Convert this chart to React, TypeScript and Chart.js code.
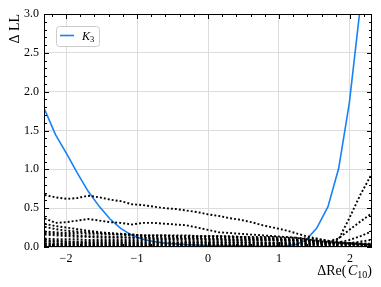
import React, { useEffect, useRef } from "react";
import { Chart, registerables } from "chart.js";

Chart.register(...registerables);

const xs = [-2.3, -2.15, -1.99, -1.84, -1.69, -1.53, -1.38, -1.23, -1.07, -0.92, -0.77, -0.61, -0.46, -0.31, -0.15, 0, 0.15, 0.31, 0.46, 0.61, 0.77, 0.92, 1.07, 1.23, 1.38, 1.53, 1.69, 1.84, 1.99, 2.15, 2.3];

const k3 = [1.77, 1.45, 1.2, 0.95, 0.72, 0.52, 0.36, 0.24, 0.15, 0.1, 0.07, 0.05, 0.04, 0.03, 0.025, 0.02, 0.02, 0.02, 0.015, 0.01, 0.01, 0.01, 0.015, 0.03, 0.09, 0.24, 0.52, 1.01, 1.85, 3.13, 4.6];

const d1 = [0.67, 0.64, 0.62, 0.63, 0.66, 0.64, 0.61, 0.59, 0.55, 0.54, 0.52, 0.5, 0.49, 0.47, 0.45, 0.42, 0.4, 0.37, 0.35, 0.32, 0.28, 0.25, 0.22, 0.18, 0.14, 0.11, 0.08, 0.06, 0.05, 0.04, 0.03];
const d2 = [0.37, 0.31, 0.32, 0.34, 0.36, 0.34, 0.32, 0.31, 0.29, 0.31, 0.31, 0.3, 0.29, 0.28, 0.25, 0.22, 0.19, 0.18, 0.17, 0.16, 0.15, 0.14, 0.13, 0.12, 0.1, 0.08, 0.06, 0.05, 0.04, 0.03, 0.03];
const d3 = [0.3, 0.27, 0.25, 0.23, 0.21, 0.19, 0.18, 0.17, 0.16, 0.15, 0.15, 0.15, 0.14, 0.14, 0.14, 0.14, 0.14, 0.14, 0.13, 0.13, 0.13, 0.13, 0.12, 0.12, 0.11, 0.1, 0.08, 0.06, 0.05, 0.04, 0.03];
const d4 = [0.2, 0.19, 0.18, 0.18, 0.17, 0.17, 0.16, 0.16, 0.16, 0.15, 0.15, 0.15, 0.15, 0.15, 0.14, 0.14, 0.14, 0.13, 0.13, 0.12, 0.12, 0.11, 0.1, 0.09, 0.08, 0.07, 0.06, 0.05, 0.05, 0.04, 0.04];
const d5 = [0.16, 0.15, 0.14, 0.13, 0.13, 0.12, 0.12, 0.12, 0.12, 0.12, 0.11, 0.11, 0.11, 0.11, 0.11, 0.1, 0.1, 0.1, 0.1, 0.1, 0.1, 0.1, 0.09, 0.09, 0.08, 0.07, 0.06, 0.06, 0.05, 0.05, 0.04];
const d6 = [0.11, 0.1, 0.1, 0.1, 0.09, 0.09, 0.09, 0.09, 0.09, 0.09, 0.09, 0.09, 0.09, 0.08, 0.08, 0.08, 0.08, 0.08, 0.08, 0.08, 0.08, 0.08, 0.07, 0.07, 0.07, 0.06, 0.05, 0.05, 0.04, 0.04, 0.03];
const d7 = [0.07, 0.07, 0.07, 0.06, 0.06, 0.06, 0.06, 0.06, 0.06, 0.06, 0.06, 0.06, 0.06, 0.06, 0.06, 0.06, 0.06, 0.06, 0.06, 0.06, 0.05, 0.05, 0.05, 0.05, 0.05, 0.05, 0.04, 0.04, 0.03, 0.03, 0.03];
const d8 = [0.04, 0.04, 0.04, 0.04, 0.04, 0.035, 0.035, 0.035, 0.035, 0.035, 0.035, 0.035, 0.035, 0.035, 0.03, 0.03, 0.03, 0.03, 0.03, 0.03, 0.03, 0.03, 0.03, 0.03, 0.03, 0.03, 0.025, 0.025, 0.02, 0.02, 0.02];
const d9 = [0.015, 0.015, 0.015, 0.015, 0.015, 0.015, 0.015, 0.015, 0.015, 0.015, 0.012, 0.012, 0.012, 0.012, 0.012, 0.012, 0.012, 0.012, 0.012, 0.012, 0.012, 0.012, 0.012, 0.012, 0.012, 0.01, 0.01, 0.01, 0.01, 0.01, 0.01];
const d10 = [0.26, 0.23, 0.21, 0.2, 0.19, 0.18, 0.17, 0.16, 0.15, 0.14, 0.13, 0.13, 0.13, 0.12, 0.12, 0.12, 0.12, 0.12, 0.12, 0.11, 0.11, 0.11, 0.1, 0.1, 0.09, 0.08, 0.07, 0.06, 0.05, 0.04, 0.04];
const d11 = [0.18, 0.17, 0.16, 0.15, 0.14, 0.14, 0.13, 0.13, 0.12, 0.12, 0.11, 0.11, 0.11, 0.1, 0.1, 0.1, 0.1, 0.09, 0.09, 0.09, 0.09, 0.09, 0.08, 0.08, 0.07, 0.06, 0.05, 0.05, 0.04, 0.04, 0.03];
const r1 = [0.08, 0.08, 0.07, 0.07, 0.07, 0.07, 0.07, 0.07, 0.07, 0.07, 0.07, 0.07, 0.06, 0.06, 0.06, 0.06, 0.06, 0.06, 0.06, 0.06, 0.06, 0.05, 0.05, 0.05, 0.04, 0.04, 0.04, 0.1, 0.37, 0.68, 0.93];
const r2 = [0.05, 0.05, 0.05, 0.05, 0.05, 0.05, 0.05, 0.05, 0.05, 0.05, 0.05, 0.05, 0.05, 0.05, 0.05, 0.05, 0.05, 0.05, 0.05, 0.05, 0.05, 0.05, 0.05, 0.05, 0.05, 0.05, 0.07, 0.11, 0.22, 0.33, 0.43];
const r3 = [0.03, 0.03, 0.03, 0.03, 0.03, 0.03, 0.03, 0.03, 0.03, 0.03, 0.03, 0.03, 0.03, 0.03, 0.03, 0.03, 0.03, 0.03, 0.03, 0.03, 0.03, 0.03, 0.03, 0.03, 0.03, 0.04, 0.05, 0.06, 0.09, 0.14, 0.2];
const r4 = [0.02, 0.02, 0.02, 0.02, 0.02, 0.02, 0.02, 0.02, 0.02, 0.02, 0.02, 0.02, 0.02, 0.02, 0.02, 0.02, 0.02, 0.02, 0.02, 0.02, 0.02, 0.02, 0.02, 0.02, 0.02, 0.02, 0.03, 0.04, 0.05, 0.07, 0.09];

const dottedSeries = [d1, d2, d3, d4, d5, d6, d7, d8, d9, d10, d11, r1, r2, r3, r4];

const xTicks = [-2, -1, 0, 1, 2];
const yTicks = [0, 0.5, 1.0, 1.5, 2.0, 2.5, 3.0];

const SERIF = "'Liberation Serif', 'DejaVu Serif', serif";

const toPts = (ys: number[]) => ys.map((y, i) => ({ x: xs[i], y }));

const decoPlugin = {
  id: "deco",
  afterDraw(chart: any) {
    const { ctx, chartArea: a, scales } = chart;
    const x = scales.x;
    const y = scales.y;
    ctx.save();
    ctx.strokeStyle = "#000";
    ctx.lineWidth = 1;
    ctx.strokeRect(Math.round(a.left) + 0.5, Math.round(a.top) + 0.5, Math.round(a.right - a.left) - 1, Math.round(a.bottom - a.top) - 1);
    const MAJ = 5;
    const MIN = 3;
    ctx.beginPath();
    for (let i = -11; i <= 11; i++) {
      const v = i * 0.2;
      if (v < x.min || v > x.max) continue;
      const px = Math.round(x.getPixelForValue(v)) + 0.5;
      const L = i % 5 === 0 ? MAJ : MIN;
      ctx.moveTo(px, a.bottom);
      ctx.lineTo(px, a.bottom - L);
      ctx.moveTo(px, a.top);
      ctx.lineTo(px, a.top + L);
    }
    for (let i = 0; i <= 30; i++) {
      const v = i * 0.1;
      const py = Math.round(y.getPixelForValue(v)) + 0.5;
      const L = i % 5 === 0 ? MAJ : MIN;
      ctx.moveTo(a.left, py);
      ctx.lineTo(a.left + L, py);
      ctx.moveTo(a.right, py);
      ctx.lineTo(a.right - L, py);
    }
    ctx.stroke();

    ctx.fillStyle = "#000";
    ctx.save();
    ctx.translate(15, a.top);
    ctx.rotate(-Math.PI / 2);
    ctx.font = `14px ${SERIF}`;
    ctx.textAlign = "right";
    ctx.textBaseline = "middle";
    ctx.fillText("Δ LL", 0, 0);
    ctx.restore();

    const base = 275;
    const parts = [
      { t: "ΔRe(", f: `14px ${SERIF}`, dy: 0, gap: 1.5 },
      { t: "C", f: `italic 14px ${SERIF}`, dy: 0, gap: 0 },
      { t: "10", f: `10px ${SERIF}`, dy: 3, gap: 0 },
      { t: ")", f: `14px ${SERIF}`, dy: 0, gap: 0 },
    ];
    let total = 0;
    for (const p of parts) {
      ctx.font = p.f;
      total += ctx.measureText(p.t).width + p.gap;
    }
    let cx = a.right - total;
    ctx.textAlign = "left";
    ctx.textBaseline = "alphabetic";
    for (const p of parts) {
      ctx.font = p.f;
      ctx.fillText(p.t, cx, base + p.dy);
      cx += ctx.measureText(p.t).width + p.gap;
    }

    const lx = 56.5, ly = 26.5, lw = 43, lh = 20, r = 3;
    ctx.beginPath();
    ctx.moveTo(lx + r, ly);
    ctx.lineTo(lx + lw - r, ly);
    ctx.arcTo(lx + lw, ly, lx + lw, ly + r, r);
    ctx.lineTo(lx + lw, ly + lh - r);
    ctx.arcTo(lx + lw, ly + lh, lx + lw - r, ly + lh, r);
    ctx.lineTo(lx + r, ly + lh);
    ctx.arcTo(lx, ly + lh, lx, ly + lh - r, r);
    ctx.lineTo(lx, ly + r);
    ctx.arcTo(lx, ly, lx + r, ly, r);
    ctx.closePath();
    ctx.fillStyle = "rgba(255,255,255,0.85)";
    ctx.fill();
    ctx.strokeStyle = "#cccccc";
    ctx.lineWidth = 1;
    ctx.stroke();

    ctx.beginPath();
    ctx.strokeStyle = "#1782f5";
    ctx.lineWidth = 1.6;
    ctx.moveTo(60, 35.5);
    ctx.lineTo(74, 35.5);
    ctx.stroke();

    ctx.fillStyle = "#000";
    ctx.font = `italic 12px ${SERIF}`;
    ctx.fillText("K", 82, 40);
    const kw = ctx.measureText("K").width;
    ctx.font = `8.5px ${SERIF}`;
    ctx.fillText("3", 82 + kw, 42);
    ctx.restore();
  },
};

export default function App() {
  const ref = useRef<HTMLCanvasElement | null>(null);
  useEffect(() => {
    if (!ref.current) return;
    const datasets: any[] = dottedSeries.map((s) => ({
      data: toPts(s),
      borderColor: "#000",
      borderWidth: 1.9,
      borderDash: [1.9, 2.1],
      borderCapStyle: "butt",
      pointRadius: 0,
      fill: false,
      tension: 0,
    }));
    datasets.push({
      label: "K3",
      data: toPts(k3),
      borderColor: "#1782f5",
      borderWidth: 1.6,
      pointRadius: 0,
      fill: false,
      tension: 0,
    });
    const chart = new Chart(ref.current, {
      type: "line",
      data: { datasets },
      options: {
        animation: false,
        responsive: true,
        maintainAspectRatio: false,
        layout: { padding: { left: 0, right: 9, top: 14, bottom: 0 } },
        plugins: { legend: { display: false }, tooltip: { enabled: false } },
        scales: {
          x: {
            type: "linear",
            min: -2.31,
            max: 2.31,
            afterBuildTicks: (s: any) => {
              s.ticks = xTicks.map((v) => ({ value: v }));
            },
            afterFit: (s: any) => {
              s.height = 40;
            },
            grid: { color: "#dcdcdc", lineWidth: 1, drawTicks: false },
            border: { display: false },
            ticks: {
              padding: 5,
              color: "#000",
              font: { family: SERIF, size: 12 },
              callback: (v: any) => (Number(v) < 0 ? "\u2212" + Math.abs(Number(v)) : String(v)),
            },
          },
          y: {
            type: "linear",
            min: 0,
            max: 3,
            afterBuildTicks: (s: any) => {
              s.ticks = yTicks.map((v) => ({ value: v }));
            },
            afterFit: (s: any) => {
              s.width = 44;
            },
            grid: { color: "#dcdcdc", lineWidth: 1, drawTicks: false },
            border: { display: false },
            ticks: {
              padding: 5,
              color: "#000",
              font: { family: SERIF, size: 12 },
              callback: (v: any) => Number(v).toFixed(1),
            },
          },
        },
      },
      plugins: [decoPlugin],
    } as any);
    return () => chart.destroy();
  }, []);
  return (
    <div style={{ position: "fixed", left: 0, top: 0, width: 381, height: 287, background: "#fff" }}>
      <canvas ref={ref} />
    </div>
  );
}
